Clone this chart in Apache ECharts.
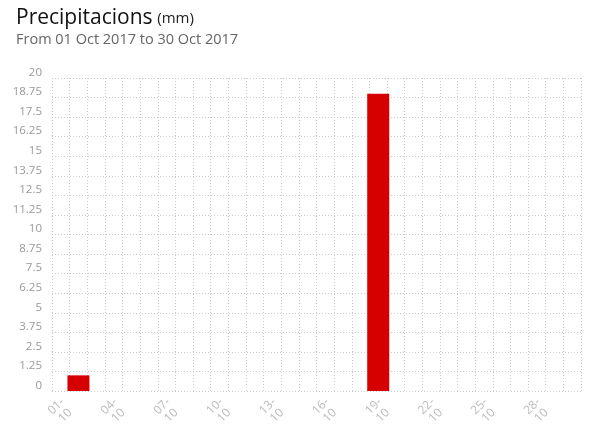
<!DOCTYPE html>
<html>
<head>
<meta charset="utf-8">
<script src="https://cdn.jsdelivr.net/npm/echarts@6/dist/echarts.min.js"></script>
<style>html,body{margin:0;padding:0;background:#fff}#c{width:600px;height:431px}</style>
</head>
<body>
<div id="c"></div>
<script>
var days = ["01-10","02-10","03-10","04-10","05-10","06-10","07-10","08-10","09-10","10-10",
            "11-10","12-10","13-10","14-10","15-10","16-10","17-10","18-10","19-10","20-10",
            "21-10","22-10","23-10","24-10","25-10","26-10","27-10","28-10","29-10","30-10"];
var rain = [0,1.0,0,0,0,0,0,0,0,0,
            0,0,0,0,0,0,0,0,19.0,0,
            0,0,0,0,0,0,0,0,0,0];
var titleText = "Precipitacions";
var unitText = "(mm)";
var subText = "From 01 Oct 2017 to 30 Oct 2017";

var chart = echarts.init(document.getElementById('c'));
var font = "'Open Sans', 'Noto Sans', sans-serif";
chart.setOption({
  animation: false,
  textStyle: {fontFamily: font},
  title: {
    left: 11, top: 3,
    text: '{t|' + titleText + '} {u|' + unitText + '}',
    subtext: subText,
    itemGap: 3,
    textStyle: {
      fontWeight: 'normal',
      rich: {
        t: {fontSize: 21, color: '#111', fontWeight: 'normal', fontFamily: font},
        u: {fontSize: 15, color: '#222', fontWeight: 'normal', fontFamily: font}
      }
    },
    subtextStyle: {fontSize: 14.5, color: '#666', fontFamily: font}
  },
  grid: {left: 52, right: 19, top: 78, bottom: 40, containLabel: false},
  xAxis: {
    type: 'category',
    data: days,
    boundaryGap: true,
    axisLine: {show: false},
    axisTick: {show: false},
    axisLabel: {
      interval: 2,
      rotate: 45,
      align: 'center',
      color: '#bbb',
      fontSize: 12,
      margin: 20,
      lineHeight: 13,
      formatter: function (v) { return v.replace('-', '-\n'); }
    },
    splitLine: {show: true, interval: 0, lineStyle: {color: '#ccc', type: [1, 2], width: 1}}
  },
  yAxis: {
    type: 'value',
    min: 0, max: 20, interval: 1.25,
    axisLine: {show: false},
    axisTick: {show: false},
    axisLabel: {color: '#999', fontSize: 11.5, margin: 10, verticalAlign: 'bottom', lineHeight: 11},
    splitLine: {show: true, lineStyle: {color: '#ccc', type: [1, 2], width: 1}}
  },
  series: [{
    type: 'bar',
    data: rain,
    barWidth: 22,
    itemStyle: {color: '#d70000'}
  }]
});
</script>
</body>
</html>
